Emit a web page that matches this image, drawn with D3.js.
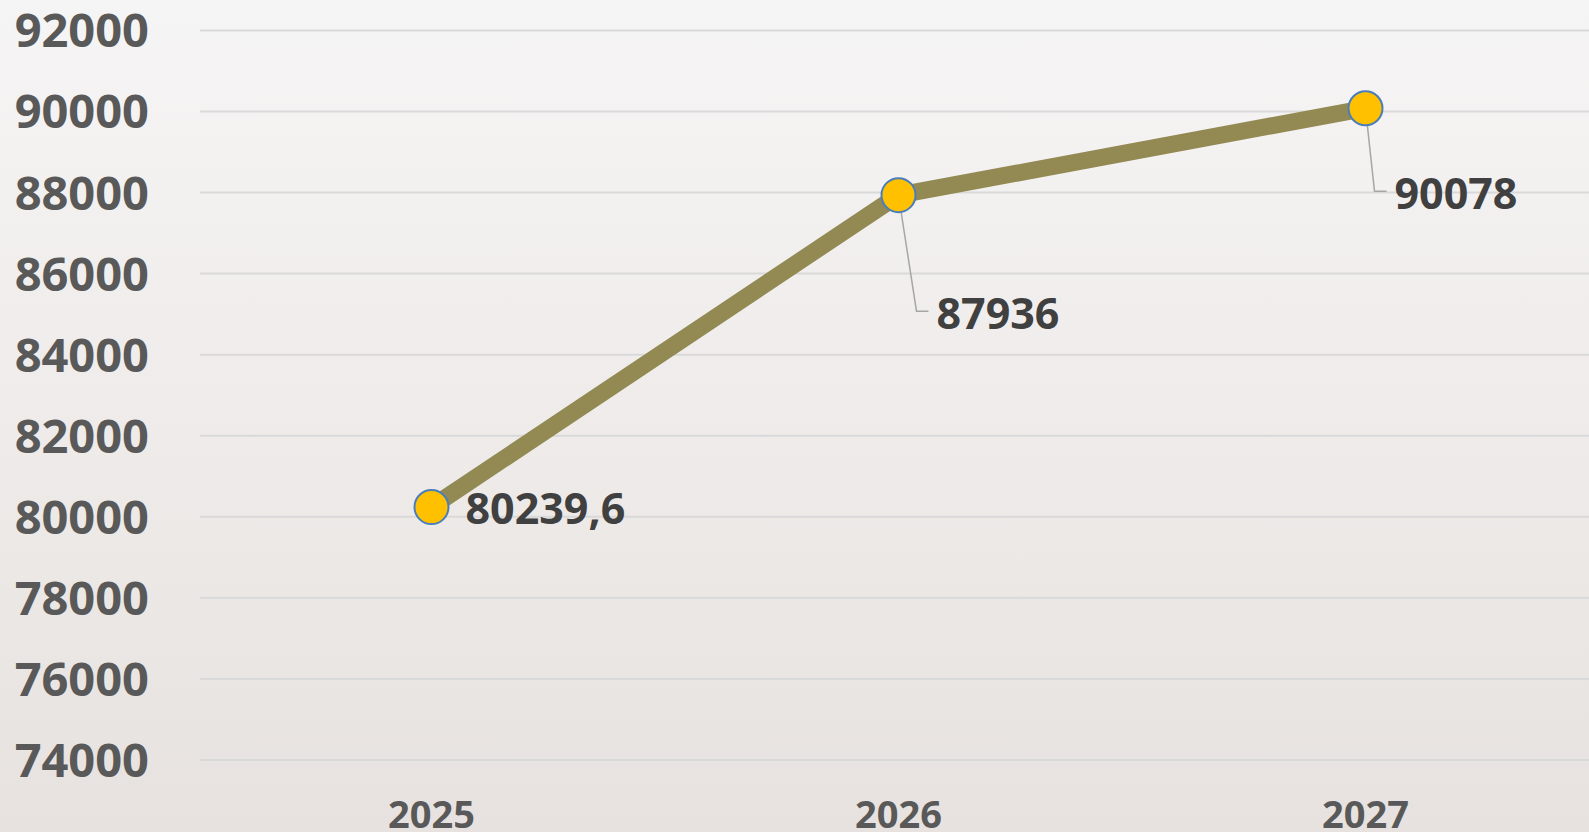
<!DOCTYPE html>
<html>
<head>
<meta charset="utf-8">
<script src="https://cdn.jsdelivr.net/npm/d3@7"></script>
<style>
  html, body { margin: 0; padding: 0; overflow: hidden; }
  svg { display: block; }
</style>
</head>
<body>
<script>
var years = ['2025', '2026', '2027'];
var values = [80239.6, 87936, 90078];
var valueLabels = ['80239,6', '87936', '90078'];
var yTicks = [74000, 76000, 78000, 80000, 82000, 84000, 86000, 88000, 90000, 92000];

var width = 1589,
    height = 832;

var svg = d3.select('body')
    .append('svg')
    .attr('width', width)
    .attr('height', height);

var defs = svg.append('defs');
var grad = defs.append('linearGradient')
    .attr('id', 'bg')
    .attr('x1', 0).attr('y1', 0)
    .attr('x2', 0).attr('y2', 1);
grad.append('stop').attr('offset', '0%').attr('stop-color', '#f6f5f5');
grad.append('stop').attr('offset', '100%').attr('stop-color', '#e7e2df');

svg.append('rect')
    .attr('width', width)
    .attr('height', height)
    .attr('fill', 'url(#bg)');

var x = d3.scalePoint()
    .domain(years)
    .range([198, 1599])
    .padding(0.5);

var y = d3.scaleLinear()
    .domain([74000, 92000])
    .range([760, 30.4]);

// gridlines
svg.selectAll('.grid')
    .data(yTicks)
    .enter()
    .append('line')
    .attr('class', 'grid')
    .attr('x1', 200)
    .attr('x2', width)
    .attr('y1', function(d) { return y(d); })
    .attr('y2', function(d) { return y(d); })
    .attr('stroke', '#d9d9d9')
    .attr('stroke-width', 2);

// y axis labels
svg.selectAll('.ylab')
    .data(yTicks)
    .enter()
    .append('text')
    .attr('class', 'ylab')
    .attr('x', 149)
    .attr('y', function(d) { return y(d) + 17; })
    .attr('text-anchor', 'end')
    .attr('font-family', '"Open Sans", sans-serif')
    .attr('font-weight', 'bold')
    .attr('font-size', 47)
    .attr('fill', '#595959')
    .text(function(d) { return d; });

// x axis labels
svg.selectAll('.xlab')
    .data(years)
    .enter()
    .append('text')
    .attr('class', 'xlab')
    .attr('x', function(d) { return x(d); })
    .attr('y', 828)
    .attr('text-anchor', 'middle')
    .attr('font-family', '"Open Sans", sans-serif')
    .attr('font-weight', 'bold')
    .attr('font-size', 38)
    .attr('fill', '#595959')
    .text(function(d) { return d; });

var points = years.map(function(d, i) {
    return { year: d, value: values[i], label: valueLabels[i] };
});

var line = d3.line()
    .x(function(d) { return x(d.year); })
    .y(function(d) { return y(d.value); });

svg.append('path')
    .datum(points)
    .attr('d', line)
    .attr('fill', 'none')
    .attr('stroke', '#938953')
    .attr('stroke-width', 17)
    .attr('stroke-linejoin', 'round');

// leader lines (for labels placed below the point)
var labelOffsets = [
    { dx: 34, dy: 17, leader: false },
    { dx: 38, dy: 134, leader: true },
    { dx: 29, dy: 101, leader: true }
];

svg.selectAll('.leader')
    .data(points.filter(function(d, i) { return labelOffsets[i].leader; }))
    .enter()
    .append('polyline')
    .attr('class', 'leader')
    .attr('points', function(d) {
        var i = years.indexOf(d.year);
        var o = labelOffsets[i];
        var px = x(d.year), py = y(d.value);
        var ly = py + o.dy - 18;
        return [[px, py], [px + o.dx - 20, ly], [px + o.dx - 8, ly]].join(' ');
    })
    .attr('fill', 'none')
    .attr('stroke', '#a6a6a6')
    .attr('stroke-width', 1.5);

svg.selectAll('.marker')
    .data(points)
    .enter()
    .append('circle')
    .attr('class', 'marker')
    .attr('cx', function(d) { return x(d.year); })
    .attr('cy', function(d) { return y(d.value); })
    .attr('r', 17)
    .attr('fill', '#ffc000')
    .attr('stroke', '#4a7ebb')
    .attr('stroke-width', 2);

svg.selectAll('.vlab')
    .data(points)
    .enter()
    .append('text')
    .attr('class', 'vlab')
    .attr('x', function(d, i) { return x(d.year) + labelOffsets[i].dx; })
    .attr('y', function(d, i) { return y(d.value) + labelOffsets[i].dy; })
    .attr('font-family', '"Open Sans", sans-serif')
    .attr('font-weight', 'bold')
    .attr('font-size', 43)
    .attr('fill', '#404040')
    .text(function(d) { return d.label; });
</script>
</body>
</html>
